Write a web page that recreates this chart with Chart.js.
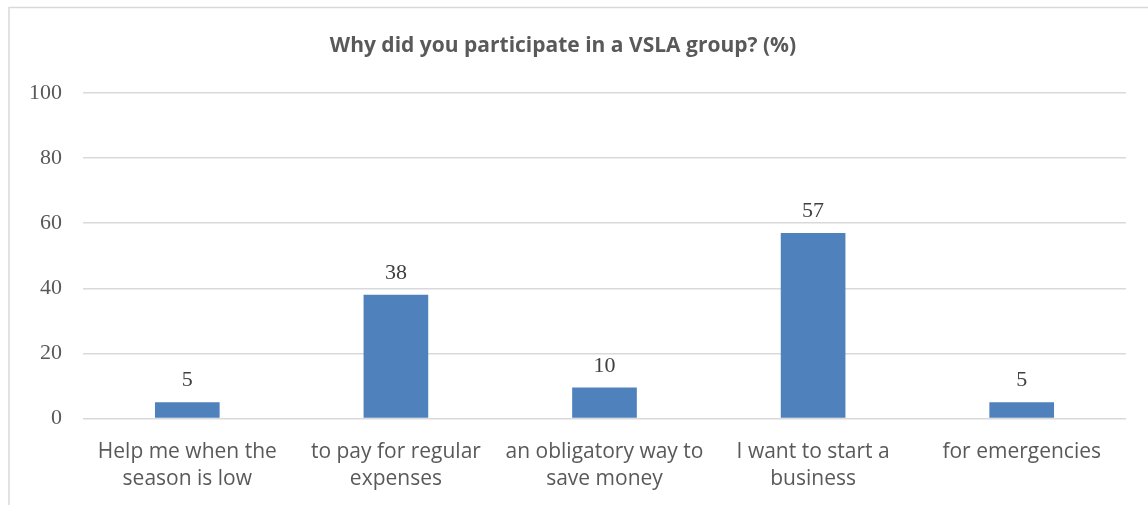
<!DOCTYPE html>
<html>
<head>
<meta charset="utf-8">
<script src="https://cdn.jsdelivr.net/npm/chart.js@4"></script>
<style>
  body { margin: 0; background: #fff; }
</style>
</head>
<body>
<canvas id="vslaChart" width="1148" height="505"></canvas>
<script>
const categories = [
  ["Help me when the", "season is low"],
  ["to pay for regular", "expenses"],
  ["an obligatory way to", "save money"],
  ["I want to start a", "business"],
  ["for emergencies"]
];
const shares = [5, 38, 9.5, 57, 5];
const yTicks = [0, 20, 40, 60, 80, 100];
const chartTitle = "Why did you participate in a VSLA group? (%)";

// light grey frame around the chart, like the office export
const framePlugin = {
  id: "frame",
  beforeDraw(chart) {
    const ctx = chart.ctx;
    ctx.save();
    ctx.strokeStyle = "#d9d9d9";
    ctx.lineWidth = 1.5;
    ctx.strokeRect(9, 7.5, 1400, 700);
    ctx.restore();
  }
};

// value labels above the bars
const valueLabels = {
  id: "valueLabels",
  afterDatasetsDraw(chart) {
    const ctx = chart.ctx;
    const meta = chart.getDatasetMeta(0);
    ctx.save();
    ctx.font = "22px 'Liberation Serif', 'DejaVu Serif', serif";
    ctx.fillStyle = "#404040";
    ctx.textAlign = "center";
    ctx.textBaseline = "alphabetic";
    meta.data.forEach((bar, i) => {
      ctx.fillText(String(Math.round(shares[i])), bar.x, bar.y - 16);
    });
    ctx.restore();
  }
};

const ctx = document.getElementById("vslaChart").getContext("2d");
new Chart(ctx, {
  type: "bar",
  data: {
    labels: categories,
    datasets: [{
      data: shares,
      backgroundColor: "#4f81bd",
      barPercentage: 0.62,
      categoryPercentage: 0.5
    }]
  },
  options: {
    responsive: false,
    animation: false,
    layout: { padding: { left: 0, right: 22, top: 0, bottom: 0 } },
    plugins: {
      legend: { display: false },
      tooltip: { enabled: false },
      title: {
        display: true,
        text: chartTitle,
        color: "#595959",
        font: { family: "'Open Sans', sans-serif", size: 21, weight: "bold", lineHeight: 1.2 },
        padding: { top: 33.4, bottom: 34.4 }
      }
    },
    scales: {
      x: {
        grid: { display: false, drawTicks: false },
        border: { display: false },
        ticks: {
          color: "#595959",
          padding: 20,
          maxRotation: 0,
          autoSkip: false,
          font: { family: "'Open Sans', sans-serif", size: 21, lineHeight: 1.3 }
        },
        afterFit(scale) { scale.height = 86.5; }
      },
      y: {
        min: 0,
        max: 100,
        afterBuildTicks(scale) { scale.ticks = yTicks.map(v => ({ value: v })); },
        grid: { color: "#d9d9d9", lineWidth: 1.5, drawTicks: false },
        border: { display: false },
        ticks: {
          color: "#595959",
          padding: 21,
          font: { family: "'Liberation Serif', 'DejaVu Serif', serif", size: 22 }
        },
        afterFit(scale) { scale.width = 83; }
      }
    }
  },
  plugins: [framePlugin, valueLabels]
});
</script>
</body>
</html>
